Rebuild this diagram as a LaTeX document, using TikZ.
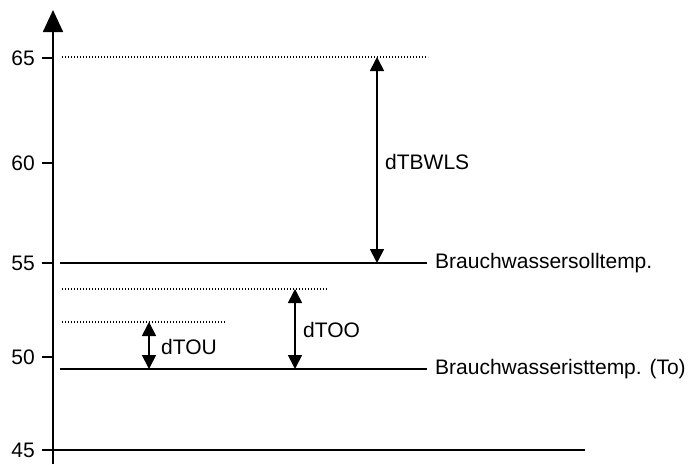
\documentclass[tikz,border=0pt]{standalone}
\usepackage{fontspec}
\setmainfont{Liberation Sans}
\usetikzlibrary{arrows.meta}
\begin{document}
\begin{tikzpicture}[x=1pt,y=-1pt,
  line/.style={line width=1.7pt},
  dotline/.style={line width=1.3pt,dash pattern=on 1.2pt off 1.8pt},
  tick/.style={line width=1.7pt},
  dim/.style={line width=1.7pt,{Triangle[width=14pt,length=14pt]}-{Triangle[width=14pt,length=14pt]}},
  lbl/.style={font=\fontsize{21}{24}\selectfont,inner sep=0pt},
  ticklbl/.style={lbl,anchor=east}]
  \useasboundingbox (0,0) rectangle (690,464);

  % axis
  \coordinate (axtop) at (53,10);
  \coordinate (axbot) at (53,464);
  \draw[line,-{Triangle[width=20pt,length=22pt]}] (axbot) -- (axtop);

  % ticks and their values
  \foreach \v/\y in {65/58,60/163,55/263,50/357,45/450}{
    \coordinate (t\v) at (42,\y);
    \coordinate (a\v) at (53,\y);
    \draw[tick] (t\v) -- (a\v);
    \node[ticklbl] (n\v) at (35,\y) {\v};
  }

  % levels
  \coordinate (d65l) at (62,57);   \coordinate (d65r) at (428,57);
  \coordinate (sl) at (60,263);    \coordinate (sr) at (427,263);
  \coordinate (ool) at (62,289);   \coordinate (oor) at (328,289);
  \coordinate (oul) at (62,322);   \coordinate (our) at (225,322);
  \coordinate (il) at (60,369);    \coordinate (ir) at (427,369);
  \coordinate (bl) at (42,450);    \coordinate (br) at (585,450);

  \draw[dotline] (d65l) -- (d65r);
  \draw[line] (sl) -- (sr);
  \draw[dotline] (ool) -- (oor);
  \draw[dotline] (oul) -- (our);
  \draw[line] (il) -- (ir);
  \draw[line] (bl) -- (br);

  \node[lbl,anchor=west] (soll) at (435,263) {Brauchwassersolltemp.};
  \node[lbl,anchor=west] (ist) at (435,369) {Brauchwasseristtemp. (To)};

  % differences
  \coordinate (wt) at (377,57);  \coordinate (wb) at (377,263);
  \coordinate (ot) at (295,289); \coordinate (ob) at (295,369);
  \coordinate (ut) at (149,322); \coordinate (ub) at (149,369);
  \draw[dim] (wt) -- (wb);
  \draw[dim] (ot) -- (ob);
  \draw[dim] (ut) -- (ub);
  \node[lbl,anchor=west] (dw) at (385,162) {dTBWLS};
  \node[lbl,anchor=west] (doo) at (303,330) {dTOO};
  \node[lbl,anchor=west] (dou) at (161,347) {dTOU};
\end{tikzpicture}
\end{document}
